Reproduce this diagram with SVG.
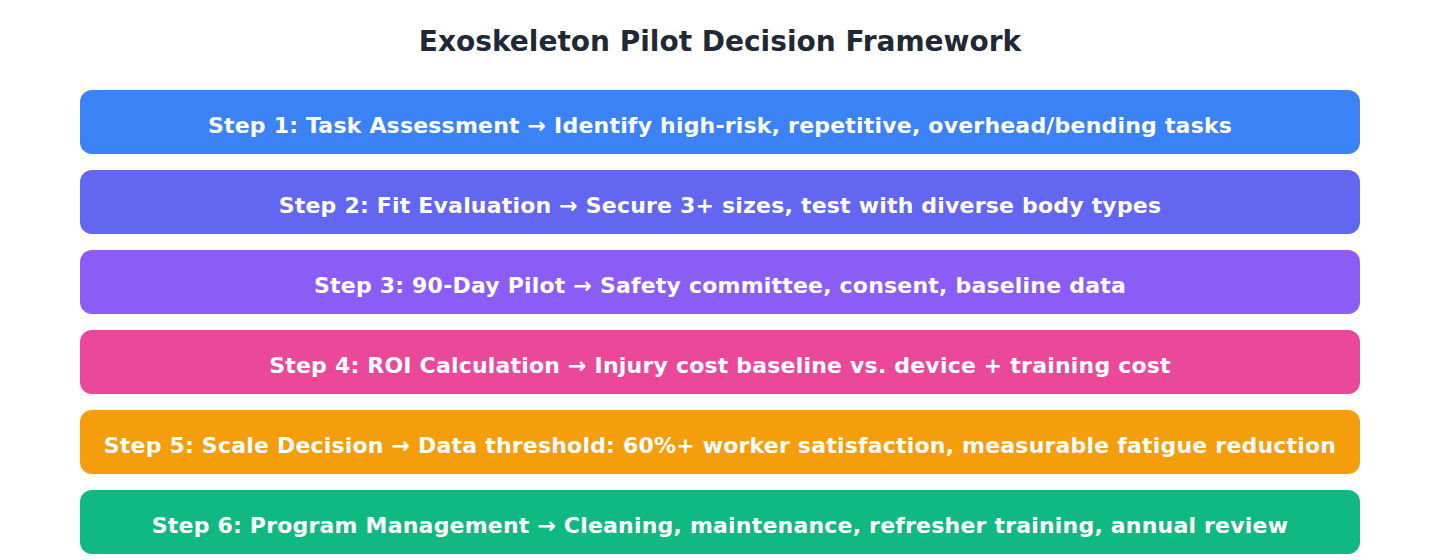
<svg xmlns="http://www.w3.org/2000/svg" width="1440" height="560" viewBox="0 0 1440 560">
<style>
.title{font-family:"DejaVu Sans",sans-serif;font-weight:bold;font-size:28px;fill:#1f2937;text-anchor:middle}
.lbl{font-family:"DejaVu Sans",sans-serif;font-weight:bold;font-size:22px;letter-spacing:0.2px;fill:#ffffff;text-anchor:middle}
</style>
<rect width="1440" height="560" fill="#ffffff"/>
<text class="title" x="720" y="51">Exoskeleton Pilot Decision Framework</text>
<g id="step1"><rect x="80" y="90" width="1280" height="64" rx="12" fill="#3b82f6"/><text class="lbl" x="720" y="133">Step 1: Task Assessment → Identify high-risk, repetitive, overhead/bending tasks</text></g>
<g id="step2"><rect x="80" y="170" width="1280" height="64" rx="12" fill="#6366f1"/><text class="lbl" x="720" y="213">Step 2: Fit Evaluation → Secure 3+ sizes, test with diverse body types</text></g>
<g id="step3"><rect x="80" y="250" width="1280" height="64" rx="12" fill="#8b5cf6"/><text class="lbl" x="720" y="293">Step 3: 90-Day Pilot → Safety committee, consent, baseline data</text></g>
<g id="step4"><rect x="80" y="330" width="1280" height="64" rx="12" fill="#ec4899"/><text class="lbl" x="720" y="373">Step 4: ROI Calculation → Injury cost baseline vs. device + training cost</text></g>
<g id="step5"><rect x="80" y="410" width="1280" height="64" rx="12" fill="#f59e0b"/><text class="lbl" x="720" y="453">Step 5: Scale Decision → Data threshold: 60%+ worker satisfaction, measurable fatigue reduction</text></g>
<g id="step6"><rect x="80" y="490" width="1280" height="64" rx="12" fill="#10b981"/><text class="lbl" x="720" y="533">Step 6: Program Management → Cleaning, maintenance, refresher training, annual review</text></g>
<g id="connectors"></g>
</svg>
